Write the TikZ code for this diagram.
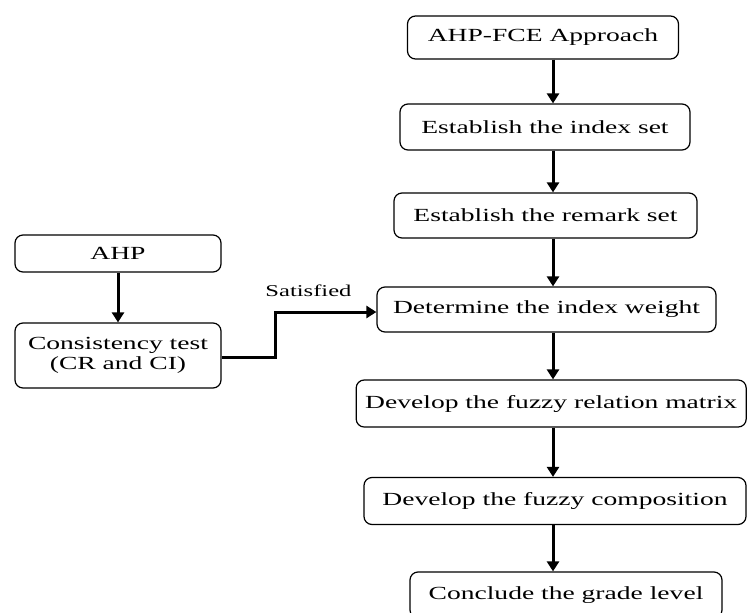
\documentclass[tikz,border=0pt]{standalone}
\usepackage{fontspec}
\setmainfont{Liberation Serif}[FakeStretch=1.49]
\usetikzlibrary{arrows.meta,calc}
\begin{document}
\begin{tikzpicture}[x=1pt,y=-1pt,
  box/.style={draw,line width=1.2pt,rounded corners=8pt,inner sep=0pt,
    font=\fontsize{18.5}{20.5}\selectfont,align=center},
  arr/.style={line width=3pt,-{Triangle[width=12pt,length=10pt]}},
  lbl/.style={font=\fontsize{16.5}{18}\selectfont,inner sep=0pt}]
\useasboundingbox (0,0) rectangle (747,613);
\coordinate (col) at (553,0);
\node[box,minimum width=271pt,minimum height=43pt] (fce) at (543,37.5) {AHP-FCE Approach};
\node[box,minimum width=290pt,minimum height=46pt] (idx) at (545,127) {Establish the index set};
\node[box,minimum width=303pt,minimum height=45pt] (rem) at (545.5,215.5) {Establish the remark set};
\node[box,minimum width=339pt,minimum height=45pt] (wgt) at (546.5,309.5) {Determine the index weight};
\node[box,minimum width=390pt,minimum height=47pt] (rel) at (551.2,403.5) {Develop the fuzzy relation matrix};
\node[box,minimum width=382pt,minimum height=47pt] (comp) at (555,501) {Develop the fuzzy composition};
\node[box,minimum width=312pt,minimum height=46pt] (grade) at (566,595) {Conclude the grade level};
\node[box,minimum width=206pt,minimum height=37pt] (ahp) at (118,253.5) {AHP};
\node[box,minimum width=206pt,minimum height=65pt] (cons) at (118,355.5) {Consistency test\\(CR and CI)};
\node[lbl,anchor=base] (sat) at (308.5,296.7) {Satisfied};
\draw[arr] (fce.south -| col) -- (idx.north -| col);
\draw[arr] (idx.south -| col) -- (rem.north -| col);
\draw[arr] (rem.south -| col) -- (wgt.north -| col);
\draw[arr] (wgt.south -| col) -- (rel.north -| col);
\draw[arr] (rel.south -| col) -- (comp.north -| col);
\draw[arr] (comp.south -| col) -- (grade.north -| col);
\draw[arr] (ahp.south) -- (cons.north);
\coordinate (elb) at (275,0);
\coordinate (c1) at ($(cons.east)+(0,1.5)$);
\coordinate (c2) at ($(wgt.west)+(0,2.5)$);
\draw[arr] (c1) -- (c1 -| elb) |- (c2);
\end{tikzpicture}
\end{document}
